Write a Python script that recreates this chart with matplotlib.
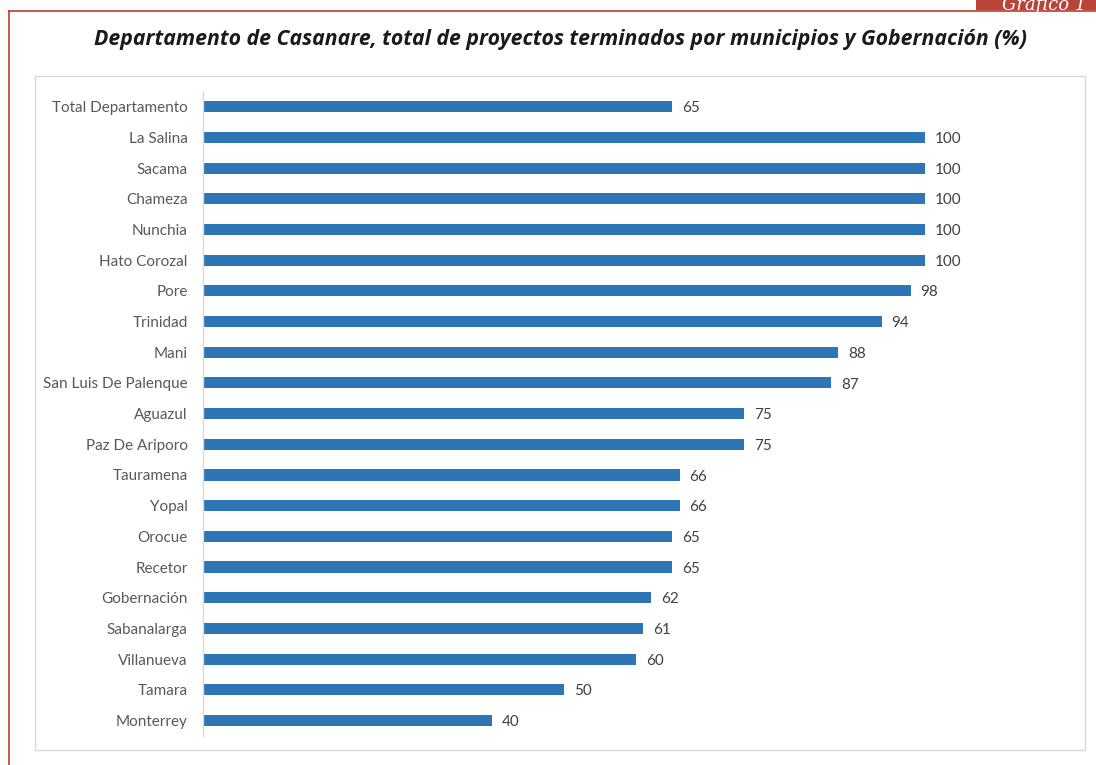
import matplotlib
matplotlib.use("Agg")
import numpy as np
from matplotlib import pyplot as plt
from matplotlib.patches import Rectangle
from matplotlib.lines import Line2D

# data, top to bottom as in the chart
categorias = ["Total Departamento", "La Salina", "Sacama", "Chameza", "Nunchia",
              "Hato Corozal", "Pore", "Trinidad", "Mani", "San Luis De Palenque",
              "Aguazul", "Paz De Ariporo", "Tauramena", "Yopal", "Orocue",
              "Recetor", "Gobernación", "Sabanalarga", "Villanueva", "Tamara",
              "Monterrey"]
valores = [65, 100, 100, 100, 100, 100, 98, 94, 88, 87, 75, 75, 66, 66, 65,
           65, 62, 61, 60, 50, 40]

titulo = "Departamento de Casanare, total de proyectos terminados por municipios y Gobernación (%)"

W, H = 1096, 765
BAR_COLOR = "#2E75B6"
FONT = "Lato"

fig = plt.figure(figsize=(W / 100, H / 100), dpi=100)


def fx(px):
    return px / W


def fy(py):
    return 1 - py / H


# red frame (only top and left visible) and the red tab
fig.add_artist(Line2D([fx(9), fx(9)], [fy(11), 0], color="#C0392B", lw=1.2))
fig.add_artist(Line2D([fx(9), 1], [fy(11), fy(11)], color="#C0392B", lw=1.2))
fig.add_artist(Rectangle((fx(976), fy(10)), 1 - fx(976), fy(0) - fy(10),
                         facecolor="#B9443A", edgecolor="none"))
fig.text(fx(1002), fy(4), "Gráfico 1", family="DejaVu Serif", style="italic",
         color="white", fontsize=13, va="center", ha="left")

# inner chart frame
fig.add_artist(Rectangle((fx(35), fy(750)), fx(1085) - fx(35), fy(76) - fy(750),
                         facecolor="none", edgecolor="#D9D9D9", lw=1.0))

fig.text(fx(560), fy(39), titulo, family="Open Sans", weight="bold", style="italic",
         fontsize=15.3, color="#1A1A1A", ha="center", va="center")

# axes: 0 at x=203 px, 100 at x=925 px
px_per_unit = (925 - 203) / 100
xmax = 120
ax_left, ax_top, ax_bot = 203, 91.6, 735.7
ax = fig.add_axes([fx(ax_left), fy(ax_bot), xmax * px_per_unit / W,
                   (ax_bot - ax_top) / H])

y = np.arange(len(categorias))
ax.barh(y, valores, height=0.36, color=BAR_COLOR)
ax.set_ylim(len(categorias) - 0.5, -0.5)
ax.set_xlim(0, xmax)

for yi, v in zip(y, valores):
    ax.text(v + 10 / px_per_unit, yi + 0.05, f"{v}", va="center", ha="left",
            fontsize=11, family=FONT, color="#404040")

ax.set_yticks(y)
ax.set_yticklabels(categorias, family=FONT, fontsize=11, color="#595959")
ax.tick_params(axis="y", length=0, pad=11)
ax.set_xticks([])
for side in ["top", "right", "bottom"]:
    ax.spines[side].set_visible(False)
ax.spines["left"].set_color("#D9D9D9")
ax.spines["left"].set_linewidth(1.0)

fig.savefig("out.png", dpi=100)
